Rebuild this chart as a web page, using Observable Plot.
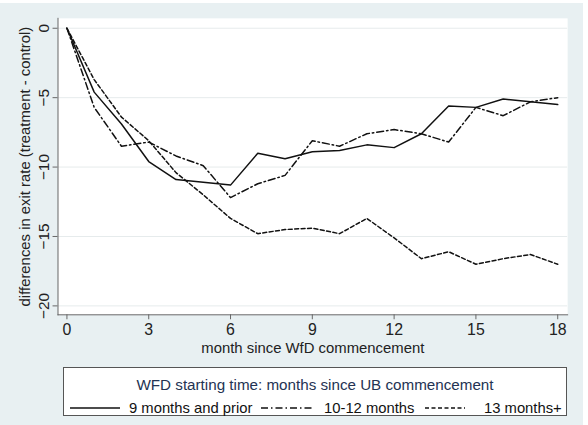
<!DOCTYPE html>
<html>
<head>
<meta charset="utf-8">
<script src="https://cdn.jsdelivr.net/npm/d3@7"></script>
<script src="https://cdn.jsdelivr.net/npm/@observablehq/plot@0.6"></script>
<style>
  html, body { margin: 0; padding: 0; background: #ffffff; }
  #fig { position: absolute; left: 0; top: 3px; width: 583px; height: 422px; background: #e8f0f2; font-family: "Liberation Sans", Arial, sans-serif; }
  #chart { position: absolute; left: 0; top: -3px; }
  #legend { position: absolute; left: 63px; top: 364px; width: 502px; height: 47px; background: #fff; border: 1px solid #555; }
  #legend .title { position: absolute; left: 0; width: 100%; top: 8px; line-height: 18px; text-align: center; font-size: 15.2px; color: #243353; }
  #legend .item { position: absolute; top: 31px; line-height: 18px; font-size: 14.8px; color: #111; white-space: nowrap; }
  #legend svg { position: absolute; top: 35px; display: block; }
</style>
</head>
<body>
<div id="fig">
  <div id="chart"></div>
  <div id="legend"><div class="title"></div></div>
</div>
<script>
const months = [0,1,2,3,4,5,6,7,8,9,10,11,12,13,14,15,16,17,18];
const prior9 = [0,-4.6,-6.9,-9.6,-10.9,-11.1,-11.3,-9.0,-9.4,-8.9,-8.8,-8.4,-8.6,-7.6,-5.6,-5.7,-5.1,-5.3,-5.5];
const m10to12 = [0,-5.7,-8.5,-8.2,-9.2,-9.9,-12.2,-11.2,-10.6,-8.1,-8.5,-7.6,-7.3,-7.6,-8.2,-5.7,-6.3,-5.3,-5.0];
const m13plus = [0,-3.7,-6.4,-8.1,-10.4,-12.0,-13.7,-14.8,-14.5,-14.4,-14.8,-13.7,-15.1,-16.6,-16.1,-17.0,-16.6,-16.3,-17.0];
const seriesNames = ["9 months and prior", "10-12 months", "13 months+"];
const dashes = ["none", "7,3,1.5,3", "4,2.5"];
const xTicks = [0,3,6,9,12,15,18];
const yTicks = [0,-5,-10,-15,-20];
const legendTitle = "WFD starting time: months since UB commencement";

const seriesValues = [prior9, m10to12, m13plus];
const data = seriesValues.flatMap((vals, s) => vals.map((v, i) => ({month: months[i], value: v, series: seriesNames[s]})));

const lines = seriesNames.map((name, s) =>
  Plot.line(data.filter(d => d.series === name), {x: "month", y: "value", stroke: "#111", strokeWidth: 1.5, strokeDasharray: dashes[s]})
);

const chart = Plot.plot({
  width: 588,
  height: 360,
  marginLeft: 58,
  marginRight: 16,
  marginTop: 18,
  marginBottom: 43,
  insetLeft: 9,
  insetRight: 10,
  insetTop: 10,
  insetBottom: 9,
  style: {background: "transparent", fontFamily: "Liberation Sans, Arial, sans-serif", fontSize: "15px", color: "#222"},
  x: {domain: [0, 18]},
  y: {domain: [-20, 0]},
  marks: [
    Plot.frame({fill: "white", stroke: null}),
    Plot.gridY(yTicks, {stroke: "#e6ebec", strokeOpacity: 1, strokeWidth: 1}),
    Plot.frame({anchor: "left", stroke: "#666"}),
    Plot.frame({anchor: "bottom", stroke: "#666"}),
    Plot.axisY({ticks: yTicks, tickRotate: -90, tickSize: 5, tickPadding: 4, label: null, fontSize: 15.5, stroke: "#666"}),
    Plot.axisY({ticks: [], label: "differences in exit rate (treatment - control)", labelAnchor: "center", labelArrow: "none", labelOffset: 39, fontSize: 15}),
    Plot.axisX({ticks: xTicks, tickSize: 5, tickPadding: 4, label: null, fontSize: 16, stroke: "#666"}),
    Plot.axisX({ticks: [], label: "month since WfD commencement", labelAnchor: "center", labelArrow: "none", labelOffset: 39, fontSize: 15}),
    ...lines
  ]
});
document.getElementById("chart").appendChild(chart);

// Legend
const legend = document.getElementById("legend");
legend.querySelector(".title").textContent = legendTitle;
const swX = [6, 197, 361];
const swW = [50, 51, 40];
const txX = [65, 260, 420];
seriesNames.forEach((name, s) => {
  const svg = d3.create("svg").attr("width", swW[s]).attr("height", 10).style("left", swX[s] + "px");
  svg.append("line").attr("x1", 0).attr("x2", swW[s]).attr("y1", 5).attr("y2", 5)
    .attr("stroke", "#111").attr("stroke-width", 1.5).attr("stroke-dasharray", dashes[s]);
  legend.appendChild(svg.node());
  const span = document.createElement("div");
  span.className = "item";
  span.style.left = txX[s] + "px";
  span.textContent = name;
  legend.appendChild(span);
});
</script>
</body>
</html>
